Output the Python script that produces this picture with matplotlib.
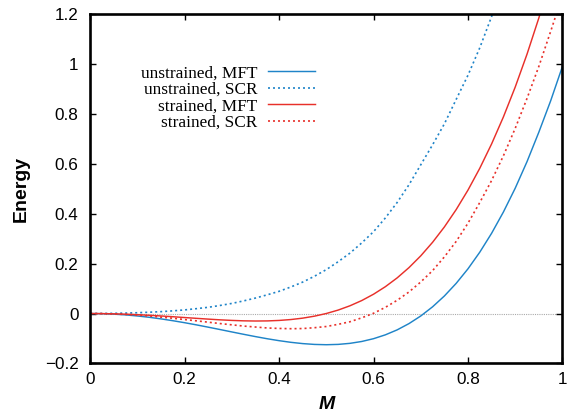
import matplotlib
matplotlib.use("Agg")
import matplotlib.pyplot as plt
import numpy as np

# values: M in steps of 0.025, Energy per curve
m_grid = [0, 0.025, 0.05, 0.075, 0.10, 0.125, 0.15, 0.175, 0.20, 0.225, 0.25, 0.275, 0.30,
          0.325, 0.35, 0.375, 0.40, 0.425, 0.45, 0.475, 0.50, 0.525, 0.55, 0.575, 0.60,
          0.625, 0.65, 0.675, 0.70, 0.725, 0.75, 0.775, 0.80, 0.825, 0.85, 0.875, 0.90,
          0.925, 0.95, 0.975, 1.0]

e_unstr_mft = [0, -0.0006, -0.0025, -0.0055, -0.0098, -0.0151, -0.0215, -0.0288, -0.0368,
               -0.0455, -0.0547, -0.0642, -0.0738, -0.0833, -0.0925, -0.1011, -0.1088,
               -0.1154, -0.1205, -0.1238, -0.1250, -0.1237, -0.1195, -0.1120, -0.1008,
               -0.0854, -0.0655, -0.0404, -0.0098, 0.0269, 0.0703, 0.1209, 0.1792, 0.2459,
               0.3215, 0.4068, 0.5022, 0.6086, 0.7265, 0.852, 0.990]

# curves leaving the top of the frame stop at the first point above 1.2
e_unstr_scr = [0, 0.0002, 0.0008, 0.0018, 0.0032, 0.0052, 0.0075, 0.0107, 0.0145, 0.0195,
               0.025, 0.0323, 0.0405, 0.0507, 0.062, 0.075, 0.089, 0.1065, 0.126, 0.1495,
               0.176, 0.2075, 0.242, 0.283, 0.328, 0.383, 0.445, 0.516, 0.596, 0.676, 0.760,
               0.858, 0.955, 1.065, 1.19, 1.33]

e_str_mft = [0, -0.0003, -0.0012, -0.0026, -0.0046, -0.0070, -0.0098, -0.0128, -0.0161,
             -0.0193, -0.0224, -0.0253, -0.0276, -0.0293, -0.0300, -0.0296, -0.0277, -0.0241,
             -0.0185, -0.0105, 0.0001, 0.0138, 0.0310, 0.0520, 0.0774, 0.1075, 0.1428,
             0.1839, 0.2312, 0.2854, 0.3469, 0.4165, 0.4947, 0.5822, 0.6796, 0.7878, 0.9074,
             1.0392, 1.1840, 1.3426]

e_str_scr = [0, -0.0004, -0.0017, -0.0037, -0.0066, -0.0100, -0.0145, -0.0188, -0.0242,
             -0.0293, -0.0347, -0.0402, -0.0453, -0.0503, -0.0541, -0.0579, -0.0598, -0.0608,
             -0.0602, -0.0568, -0.0520, -0.0433, -0.0330, -0.0172, 0.0010, 0.0248, 0.0530,
             0.0864, 0.1265, 0.1718, 0.2270, 0.289, 0.3620, 0.4450, 0.5330, 0.6320, 0.7420,
             0.8620, 0.9900, 1.1300, 1.2750]

labels = ["unstrained, MFT", "unstrained, SCR", "strained, MFT", "strained, SCR"]
xticks = [0, 0.2, 0.4, 0.6, 0.8, 1.0]
xticklabels = ["0", "0.2", "0.4", "0.6", "0.8", "1"]
yticks = [-0.2, 0, 0.2, 0.4, 0.6, 0.8, 1.0, 1.2]
yticklabels = ["\u22120.2", "0", "0.2", "0.4", "0.6", "0.8", "1", "1.2"]

BLUE, RED = "#1f84c8", "#e8302a"
DOT = (0, (1.2, 1.8))

plt.rcParams["font.family"] = ["Liberation Sans", "DejaVu Sans"]
fig = plt.figure(figsize=(5.71, 4.13), dpi=100)
ax = fig.add_axes([0.158, 0.120, 0.827, 0.846])

ax.axhline(0, color="#aaaaaa", lw=0.8, ls=(0, (1, 1)), zorder=1)
ax.plot(m_grid, e_unstr_mft, color=BLUE, lw=1.05, label=labels[0])
ax.plot(m_grid[:len(e_unstr_scr)], e_unstr_scr, color=BLUE, lw=1.2, ls=DOT, label=labels[1])
ax.plot(m_grid[:len(e_str_mft)], e_str_mft, color=RED, lw=1.05, label=labels[2])
ax.plot(m_grid, e_str_scr, color=RED, lw=1.2, ls=DOT, label=labels[3])

ax.set_xlim(0, 1)
ax.set_ylim(-0.2, 1.2)
ax.set_xticks(xticks)
ax.set_xticklabels(xticklabels)
ax.set_yticks(yticks)
ax.set_yticklabels(yticklabels)
ax.tick_params(direction="in", length=4, width=1.0, top=True, right=True, labelsize=12.3)
ax.tick_params(axis="x", pad=6.5)
ax.tick_params(axis="y", pad=8.5)
for s in ax.spines.values():
    s.set_linewidth(1.9)

ax.set_xlabel("M", fontsize=14, fontweight="bold", fontstyle="italic", labelpad=6)
ax.set_ylabel("Energy", fontsize=14, fontweight="bold", labelpad=11)

leg = ax.legend(loc="upper right", bbox_to_anchor=(0.476, 0.853), frameon=False,
                markerfirst=False, handlelength=2.7, handletextpad=0.64, labelspacing=0.02,
                borderpad=0, borderaxespad=0,
                prop={"family": ["Liberation Serif", "DejaVu Serif"], "size": 12.4})

fig.savefig("out.png", dpi=100)
